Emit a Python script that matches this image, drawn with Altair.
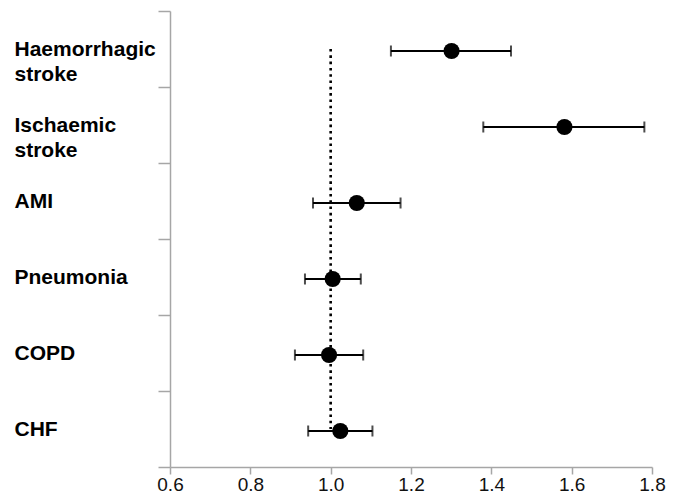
import altair as alt
import pandas as pd

categories = ["Haemorrhagic stroke", "Ischaemic stroke", "AMI", "Pneumonia", "COPD", "CHF"]
estimates = [1.301, 1.582, 1.065, 1.005, 0.996, 1.024]
lower = [1.150, 1.380, 0.956, 0.936, 0.911, 0.944]
upper = [1.449, 1.781, 1.174, 1.075, 1.081, 1.104]
x_ticks = [0.6, 0.8, 1.0, 1.2, 1.4, 1.6, 1.8]
reference_value = 1.0

df = pd.DataFrame({"cat": categories, "est": estimates, "lo": lower, "hi": upper})
ref = pd.DataFrame({"x": [reference_value], "y": [categories[0]], "y2": [categories[-1]]})

xscale = alt.Scale(domain=[0.6, 1.8], nice=False, zero=False)
yscale = alt.Scale(domain=categories, paddingInner=0, paddingOuter=0)

xaxis = alt.Axis(values=x_ticks, format=".1f", title=None, grid=False,
                 tickSize=7, labelPadding=1, labelFontSize=19,
                 labelFont="Liberation Sans", labelColor="#111111",
                 domainColor="#a6a6a6", tickColor="#a6a6a6",
                 domainWidth=1.5, tickWidth=1.5, labelFlush=False)
yaxis = alt.Axis(title=None, grid=False, tickBand="extent", tickSize=12,
                 labelPadding=144, labelAlign="left", labelBaseline="middle",
                 labelFontSize=21, labelFontWeight="bold",
                 labelFont="Liberation Sans", labelColor="#000000",
                 labelExpr="split(datum.label, ' ')", labelLineHeight=25,
                 labelLimit=300,
                 domainColor="#a6a6a6", tickColor="#a6a6a6",
                 domainWidth=1.5, tickWidth=1.5)

base = alt.Chart(df)

refline = alt.Chart(ref).mark_rule(color="black", strokeWidth=2.6,
                                   strokeDash=[2.6, 3.7]).encode(
    x=alt.X("x:Q", scale=xscale, axis=xaxis),
    y=alt.Y("y:N", scale=yscale, axis=yaxis),
    y2="y2:N",
)

bars = base.mark_rule(color="black", strokeWidth=2, yOffset=2).encode(
    x=alt.X("lo:Q", scale=xscale),
    x2="hi:Q",
    y=alt.Y("cat:N", scale=yscale),
)
cap_lo = base.mark_tick(color="black", thickness=2, size=11, orient="vertical",
                        yOffset=2).encode(
    x=alt.X("lo:Q", scale=xscale), y=alt.Y("cat:N", scale=yscale))
cap_hi = base.mark_tick(color="black", thickness=2, size=11, orient="vertical",
                        yOffset=2).encode(
    x=alt.X("hi:Q", scale=xscale), y=alt.Y("cat:N", scale=yscale))
points = base.mark_circle(color="black", opacity=1, size=260, yOffset=2).encode(
    x=alt.X("est:Q", scale=xscale), y=alt.Y("cat:N", scale=yscale))

chart = alt.layer(refline, bars, cap_lo, cap_hi, points).properties(
    width=482, height=456,
    autosize=alt.AutoSizeParams(type="none"),
    padding={"left": 162, "top": 3, "right": 15, "bottom": 29},
    background="white",
).configure_view(stroke=None)

chart.save("out.html", embed_options={"renderer": "svg", "actions": False})
